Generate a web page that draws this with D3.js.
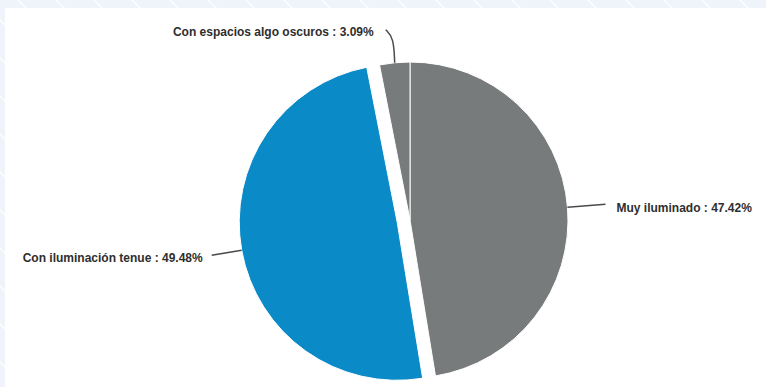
<!DOCTYPE html>
<html>
<head>
<meta charset="utf-8">
<script src="https://cdn.jsdelivr.net/npm/d3@7"></script>
<style>
  html, body { margin: 0; padding: 0; background: #eef4fa; }
  svg { display: block; }
</style>
</head>
<body>
<svg id="chart" width="766" height="387"></svg>
<script>
// Lighting conditions share (%)
const categories = ["Muy iluminado", "Con iluminación tenue", "Con espacios algo oscuros"];
const values = [47.42, 49.48, 3.09];
const colors = ["#787b7c", "#0a8bc7", "#787b7c"];
const exploded = [false, true, false];

const W = 766, H = 387;
const svg = d3.select("#chart");

// Page frame: pale blue band with faint diagonal stripes, white panel
svg.append("rect").attr("width", W).attr("height", H).attr("fill", "#eef4fa");
const stripes = svg.append("g").attr("stroke", "#ffffff").attr("stroke-width", 1.5).attr("opacity", 0.9);
d3.range(-400, 900, 38).forEach(x0 => {
  stripes.append("line").attr("x1", x0).attr("y1", 0).attr("x2", x0 + 400).attr("y2", 400);
});
svg.append("rect").attr("x", 5).attr("y", 8).attr("width", W - 5).attr("height", H - 8).attr("fill", "#ffffff");

const cx = 410, cy = 220, r = 158, explode = 13;

const pie = d3.pie().sort(null).startAngle(0).endAngle(2 * Math.PI);
const arcs = pie(values);
const arc = d3.arc().innerRadius(0).outerRadius(r);

const g = svg.append("g").attr("transform", `translate(${cx},${cy})`);

function offsetOf(d, i) {
  if (!exploded[i]) return [0, 0];
  const a = (d.startAngle + d.endAngle) / 2;
  return [Math.sin(a) * explode, -Math.cos(a) * explode];
}

g.selectAll("path.slice")
  .data(arcs)
  .join("path")
  .attr("class", "slice")
  .attr("d", arc)
  .attr("fill", (d, i) => colors[i])
  .attr("stroke", "#ffffff")
  .attr("stroke-width", 1)
  .attr("transform", (d, i) => { const o = offsetOf(d, i); return `translate(${o[0]},${o[1]})`; });

// Edge point of each slice at its mid angle
function edgePoint(d, i, rad) {
  const a = (d.startAngle + d.endAngle) / 2;
  const o = offsetOf(d, i);
  return [Math.sin(a) * rad + o[0], -Math.cos(a) * rad + o[1]];
}

const fmt = v => v.toFixed(2) + "%";

// Label placement per slice: leader polyline (relative to edge) and text anchor
const labelLayout = [
  { pts: p => [p, [p[0] + 38, p[1] - 3]], text: p => [p[0] + 49, p[1] + 5], anchor: "start" },
  { pts: p => [p, [p[0] - 30, p[1] + 5]], text: p => [p[0] - 39, p[1] + 12], anchor: "end" },
  { pts: p => [p, [p[0] - 1, p[1] - 25], [p[0] - 9, p[1] - 33]], text: p => [p[0] - 21, p[1] - 27], anchor: "end" }
];

const labels = g.append("g");
arcs.forEach((d, i) => {
  const p = edgePoint(d, i, r);
  const L = labelLayout[i];
  labels.append("path")
    .attr("d", d3.line().curve(d3.curveBasis)(L.pts(p)))
    .attr("fill", "none")
    .attr("stroke", "#4a4a4a")
    .attr("stroke-width", 1.5);
  const t = L.text(p);
  labels.append("text")
    .attr("x", t[0]).attr("y", t[1])
    .attr("text-anchor", L.anchor)
    .attr("font-family", "'Liberation Sans', Arial, sans-serif")
    .attr("font-weight", "bold")
    .attr("font-size", 12)
    .attr("fill", "#2e2e2e")
    .text(`${categories[i]} : ${fmt(values[i])}`);
});
</script>
</body>
</html>
